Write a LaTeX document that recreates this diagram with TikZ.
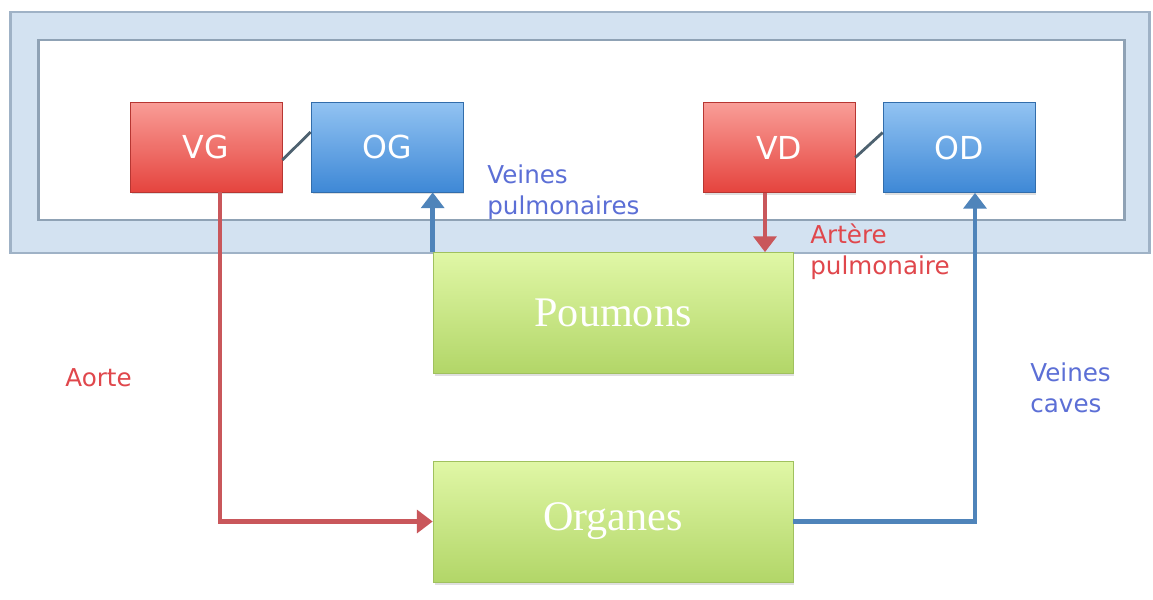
\documentclass[tikz,border=0pt]{standalone}
\usepackage{fontspec}
\setmainfont{Liberation Serif}
\newfontfamily\labfont{DejaVu Sans}
\usetikzlibrary{arrows.meta,shadows,calc}
\definecolor{frameblue}{HTML}{D3E2F1}
\definecolor{frameedge}{HTML}{9FB2C6}
\definecolor{inneredge}{HTML}{8FA2B5}
\definecolor{redtop}{HTML}{F99D97}
\definecolor{redbot}{HTML}{E5443E}
\definecolor{bluetop}{HTML}{92C3F2}
\definecolor{bluebot}{HTML}{3E88D6}
\definecolor{greentop}{HTML}{E0F7A6}
\definecolor{greenbot}{HTML}{B2D668}
\definecolor{arrred}{HTML}{C9575B}
\definecolor{arrblue}{HTML}{4F84BA}
\definecolor{labred}{HTML}{E0474C}
\definecolor{labblue}{HTML}{5C6FD6}
\definecolor{linkgray}{HTML}{4E6270}
\tikzset{
  heart/.style={minimum width=3.04cm, minimum height=1.8cm, inner sep=0pt,
    text=white, font=\labfont\fontsize{18}{20}\selectfont,
    drop shadow={opacity=0.25, shadow xshift=0.03cm, shadow yshift=-0.05cm}},
  ventricle/.style={heart, top color=redtop, bottom color=redbot, draw=redbot!80!black, line width=0.4pt},
  atrium/.style={heart, top color=bluetop, bottom color=bluebot, draw=bluebot!80!black, line width=0.4pt},
  organbox/.style={minimum width=7.2cm, minimum height=2.42cm, inner sep=0pt,
    top color=greentop, bottom color=greenbot, draw=greenbot!90!black, line width=0.4pt,
    text=white, font=\fontsize{24}{26}\selectfont,
    drop shadow={opacity=0.25, shadow xshift=0.03cm, shadow yshift=-0.06cm}},
  link/.style={draw=linkgray, line width=1.6pt},
  redflow/.style={draw=arrred, line width=2.6pt, -{Triangle[length=9pt,width=13pt]}},
  blueflow/.style={draw=arrblue, line width=2.6pt, -{Triangle[length=9pt,width=13pt]}},
  lab/.style={font=\labfont\fontsize{14}{18}\selectfont, align=left, inner sep=0pt, anchor=north west},
}
\begin{document}
\begin{tikzpicture}[x=0.02cm, y=-0.02cm]
\path[use as bounding box, fill=white] (0,0) rectangle (1153,599);
% frame
\node[draw=frameedge, fill=frameblue, line width=1.6pt, minimum width=22.8cm, minimum height=4.82cm, inner sep=0pt] (frame) at (580,132.5) {};
\node[draw=inneredge, fill=white, line width=1.6pt, minimum width=21.74cm, minimum height=3.6cm, inner sep=0pt] (inner) at (581.5,130) {};
% boxes
\node[ventricle] (VG) at (206,147) {VG};
\node[atrium] (OG) at (387,147) {OG};
\node[ventricle] (VD) at (779,147.5) {VD};
\node[atrium] (OD) at (959,147.5) {OD};
\node[organbox] (poumons) at (613,313) {Poumons};
\node[organbox] (organes) at (613,521.5) {Organes};
% links
\draw[link] ([yshift=-0.26cm]VG.east) -- ([yshift=0.3cm]OG.west);
\draw[link] ([yshift=-0.2cm]VD.east) -- ([yshift=0.3cm]OD.west);
% flows
\draw[redflow] ([xshift=0.28cm]VG.south) |- (organes.west);
\draw[blueflow] (organes.east) -| ([xshift=0.32cm]OD.south);
\draw[redflow] ([xshift=-0.28cm]VD.south) -- ([xshift=-0.28cm]VD.south |- poumons.north);
\draw[blueflow] (poumons.north west) -- (poumons.north west |- OG.south);
% labels
\node[lab, text=labblue] (vp) at (487,164) {Veines\\pulmonaires};
\node[lab, text=labred] (ap) at (810,223) {Artère\\pulmonaire};
\node[lab, text=labred, anchor=west] (ao) at (65,378) {Aorte};
\node[lab, text=labblue] (vc) at (1030,362) {Veines\\caves};
\end{tikzpicture}
\end{document}
